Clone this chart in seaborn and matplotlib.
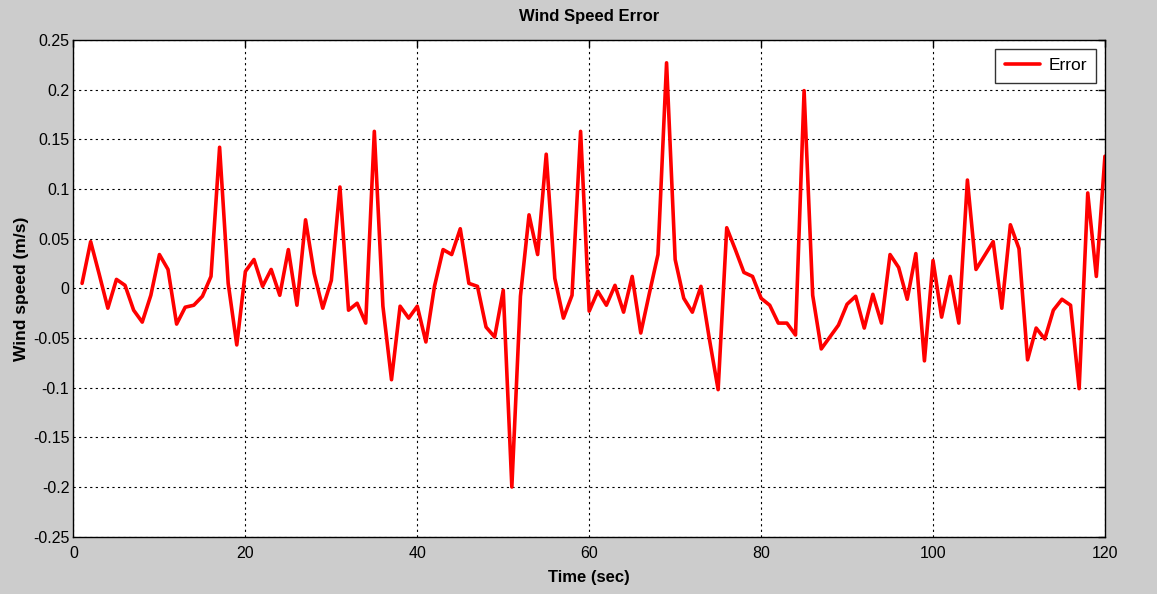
import matplotlib
matplotlib.use("Agg")
import matplotlib.pyplot as plt
import seaborn as sns
import pandas as pd

# Wind speed error sampled once per second
time_sec = list(range(1, 121))
error = [
    0.005, 0.047, 0.014, -0.020, 0.009, 0.003, -0.022, -0.034, -0.007, 0.034,
    0.019, -0.036, -0.019, -0.017, -0.008, 0.012, 0.142, 0.005, -0.057, 0.017,
    0.029, 0.002, 0.019, -0.007, 0.039, -0.017, 0.069, 0.015, -0.020, 0.008,
    0.102, -0.022, -0.015, -0.035, 0.158, -0.018, -0.092, -0.018, -0.030, -0.018,
    -0.054, 0.002, 0.039, 0.034, 0.060, 0.005, 0.002, -0.039, -0.049, -0.002,
    -0.200, -0.008, 0.074, 0.034, 0.135, 0.010, -0.030, -0.007, 0.158, -0.023,
    -0.003, -0.017, 0.003, -0.024, 0.012, -0.045, -0.005, 0.034, 0.227, 0.029,
    -0.010, -0.024, 0.002, -0.052, -0.102, 0.061, 0.039, 0.016, 0.012, -0.010,
    -0.017, -0.035, -0.035, -0.047, 0.199, -0.007, -0.061, -0.049, -0.037, -0.016,
    -0.008, -0.040, -0.006, -0.035, 0.034, 0.021, -0.011, 0.035, -0.073, 0.028,
    -0.029, 0.012, -0.035, 0.109, 0.019, 0.033, 0.047, -0.020, 0.064, 0.040,
    -0.072, -0.040, -0.051, -0.022, -0.011, -0.017, -0.101, 0.096, 0.012, 0.133,
]
x_ticks = [0, 20, 40, 60, 80, 100, 120]
y_ticks = [-0.25, -0.2, -0.15, -0.1, -0.05, 0, 0.05, 0.1, 0.15, 0.2, 0.25]
y_tick_labels = ["-0.25", "-0.2", "-0.15", "-0.1", "-0.05", "0",
                 "0.05", "0.1", "0.15", "0.2", "0.25"]

df = pd.DataFrame({"Time (sec)": time_sec, "Error": error})

sns.set_style("white")
plt.rcParams["font.family"] = ["Liberation Sans", "DejaVu Sans"]
plt.rcParams["text.color"] = "black"
plt.rcParams["axes.labelcolor"] = "black"

fig = plt.figure(figsize=(11.57, 5.94), dpi=100, facecolor="#cccccc")
ax = fig.add_axes([0.0635, 0.0965, 0.8915, 0.8362])
ax.set_facecolor("white")

sns.lineplot(data=df, x="Time (sec)", y="Error", ax=ax, color="#ff0000",
             linewidth=2.6, label="Error")

ax.set_xlim(0, 120)
ax.set_ylim(-0.25, 0.25)
ax.set_xticks(x_ticks)
ax.set_yticks(y_ticks)
ax.set_yticklabels(y_tick_labels)
ax.grid(True, color="black", linestyle=(0, (2, 3)), linewidth=0.8)
ax.tick_params(direction="in", length=5, width=1, top=True, right=True,
               labelsize=11.5, colors="black")
ax.tick_params(axis="x", pad=7)
ax.tick_params(axis="y", pad=3)
for side in ax.spines.values():
    side.set_color("black")
    side.set_linewidth(1)

ax.set_title("Wind Speed Error", fontsize=12, fontweight="bold", pad=14)
ax.set_xlabel("Time (sec)", fontsize=12, fontweight="bold", labelpad=6)
ax.set_ylabel("Wind speed (m/s)", fontsize=12.5, fontweight="bold", labelpad=3)

leg = ax.legend(loc="upper right", fontsize=12.5, frameon=True, fancybox=False,
                borderaxespad=0.5, handlelength=2.0, borderpad=0.55,
                handletextpad=0.5)
leg.get_frame().set_edgecolor("black")
leg.get_frame().set_linewidth(1)

fig.savefig("out.png", dpi=100, facecolor=fig.get_facecolor())
